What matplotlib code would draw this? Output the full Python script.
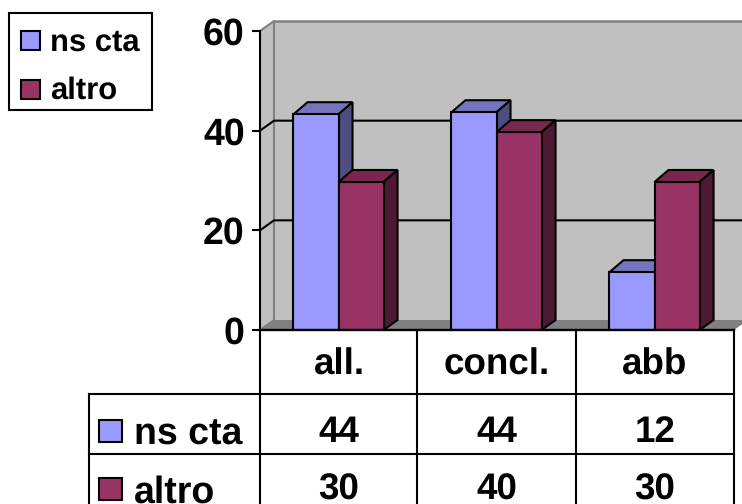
#!/usr/bin/env python3
"""Fake-3D clustered bars with a data table underneath."""

import matplotlib

matplotlib.use("Agg")
import matplotlib.pyplot as plt
from matplotlib.patches import Polygon, Rectangle

W, H = 742, 504

CATEGORIES = ["all.", "concl.", "abb"]
SERIES_NAMES = ["ns cta", "altro"]
NS_CTA = [43.3, 43.7, 11.6]
ALTRO = [29.7, 39.7, 29.7]
TABLE_NS_CTA = ["44", "44", "12"]
TABLE_ALTRO = ["30", "40", "30"]
Y_TICKS = [0, 20, 40, 60]

FRONTS = ["#9999FF", "#993366"]
TOPS = ["#7575BD", "#78284F"]
SIDES = ["#4D4D80", "#4D1A33"]
WALL = "#C0C0C0"
FLOOR = "#808080"

plt.rcParams["font.family"] = ["Liberation Sans", "DejaVu Sans"]
plt.rcParams["font.weight"] = "bold"
plt.rcParams["text.hinting"] = "none"

# depth of the 3D effect in data units
PX_Y = 60 / 299.0
DX = 14 / 158.0
WALL_DY = 10 * PX_Y
BAR_DY = 12 * PX_Y
BAR_W = 0.285
LW = 1.5

fig = plt.figure(figsize=(W / 100, H / 100), dpi=100)
ax = fig.add_axes([260 / W, 1 - 330 / H, (734 - 260) / W, (330 - 31) / H])
ax.set_xlim(-0.5, 2.5)
ax.set_ylim(0, 60)
ax.patch.set_visible(False)
for name in ["top", "right", "bottom"]:
    ax.spines[name].set_visible(False)
ax.spines["left"].set_linewidth(LW)
ax.spines["left"].set_zorder(12)

L, R = -0.5, 2.5


def poly(points, color, z, edge="none", lw=0.0):
    ax.add_patch(Polygon(points, closed=True, facecolor=color, edgecolor=edge,
                         linewidth=lw, zorder=z, clip_on=False, joinstyle="miter"))


# walls and floor
poly([(L + DX, WALL_DY), (R + DX, WALL_DY), (R + DX, 60 + WALL_DY), (L + DX, 60 + WALL_DY)], WALL, 1)
poly([(L, 0), (L + DX, WALL_DY), (L + DX, 60 + WALL_DY), (L, 60)], WALL, 1)
poly([(L, 0), (R, 0), (R + DX, WALL_DY), (L + DX, WALL_DY)], FLOOR, 1)
ax.plot([L, L + DX, L + DX], [60, 60 + WALL_DY, WALL_DY], color=FLOOR, lw=LW, zorder=2, clip_on=False)
ax.plot([L + DX, R + DX], [60 + WALL_DY, 60 + WALL_DY], color=FLOOR, lw=LW + 0.3, zorder=2, clip_on=False)
ax.plot([L, L + DX], [0, WALL_DY], color=FLOOR, lw=LW, zorder=2, clip_on=False)

for v in Y_TICKS[1:-1]:
    ax.plot([L, L + DX, R + DX], [v, v + WALL_DY, v + WALL_DY], color="black", lw=LW, zorder=3, clip_on=False)
ax.plot([L, R], [0, 0], color="black", lw=LW + 0.2, zorder=12, clip_on=False)

# bars, back to front inside each category
z = 4
for i in range(len(CATEGORIES)):
    for s, values in enumerate([NS_CTA, ALTRO]):
        x0 = i - BAR_W + s * BAR_W - 0.003
        x1 = x0 + BAR_W
        v = values[i]
        poly([(x0, v), (x1, v), (x1 + DX, v + BAR_DY), (x0 + DX, v + BAR_DY)], TOPS[s], z, "black", LW)
        poly([(x1, 0), (x1 + DX, WALL_DY), (x1 + DX, v + BAR_DY), (x1, v)], SIDES[s], z, "black", LW)
        ax.bar(x0, v, width=BAR_W, align="edge", color=FRONTS[s], edgecolor="black",
               linewidth=LW, zorder=z + 0.5)
        z += 1

ax.set_xticks([])
ax.set_yticks(Y_TICKS)
ax.tick_params(axis="y", length=6, width=LW, pad=5, labelsize=27)

# table and legend live in a pixel-coordinate overlay
over = fig.add_axes([0, 0, 1, 1], zorder=20)
over.set_xlim(0, W)
over.set_ylim(H, 0)
over.axis("off")

COLS = [259.5, 417, 576, 734]
CENTERS = [339, 497, 655]
for x in COLS:
    over.plot([x, x], [330, H], color="black", lw=LW, clip_on=False)
over.plot([89, 89], [394, H], color="black", lw=LW)
over.plot([89, 734], [394, 394], color="black", lw=LW)
over.plot([89, 734], [454, 454], color="black", lw=LW)

for cx, cat, a, b in zip(CENTERS, CATEGORIES, TABLE_NS_CTA, TABLE_ALTRO):
    over.text(cx, 375, cat, fontsize=26.5, ha="center", va="baseline")
    over.text(cx, 442, a, fontsize=26.5, ha="center", va="baseline")
    over.text(cx, 500, b, fontsize=26.5, ha="center", va="baseline")

for y, base, name, color in zip([420, 478], [445, 503], SERIES_NAMES, FRONTS):
    over.add_patch(Rectangle((99, y), 23, 22, facecolor=color, edgecolor="black", lw=LW))
    over.text(134, base, name, fontsize=27, ha="left", va="baseline")

# legend box
over.add_patch(Rectangle((9, 13), 143, 97, facecolor="white", edgecolor="black", lw=LW))
for y, base, name, color in zip([31, 80], [51, 99], SERIES_NAMES, FRONTS):
    over.add_patch(Rectangle((21, y), 19, 19, facecolor=color, edgecolor="black", lw=LW))
    over.text(50, base, name, fontsize=22.3, ha="left", va="baseline")

fig.savefig("out.png", dpi=100)
